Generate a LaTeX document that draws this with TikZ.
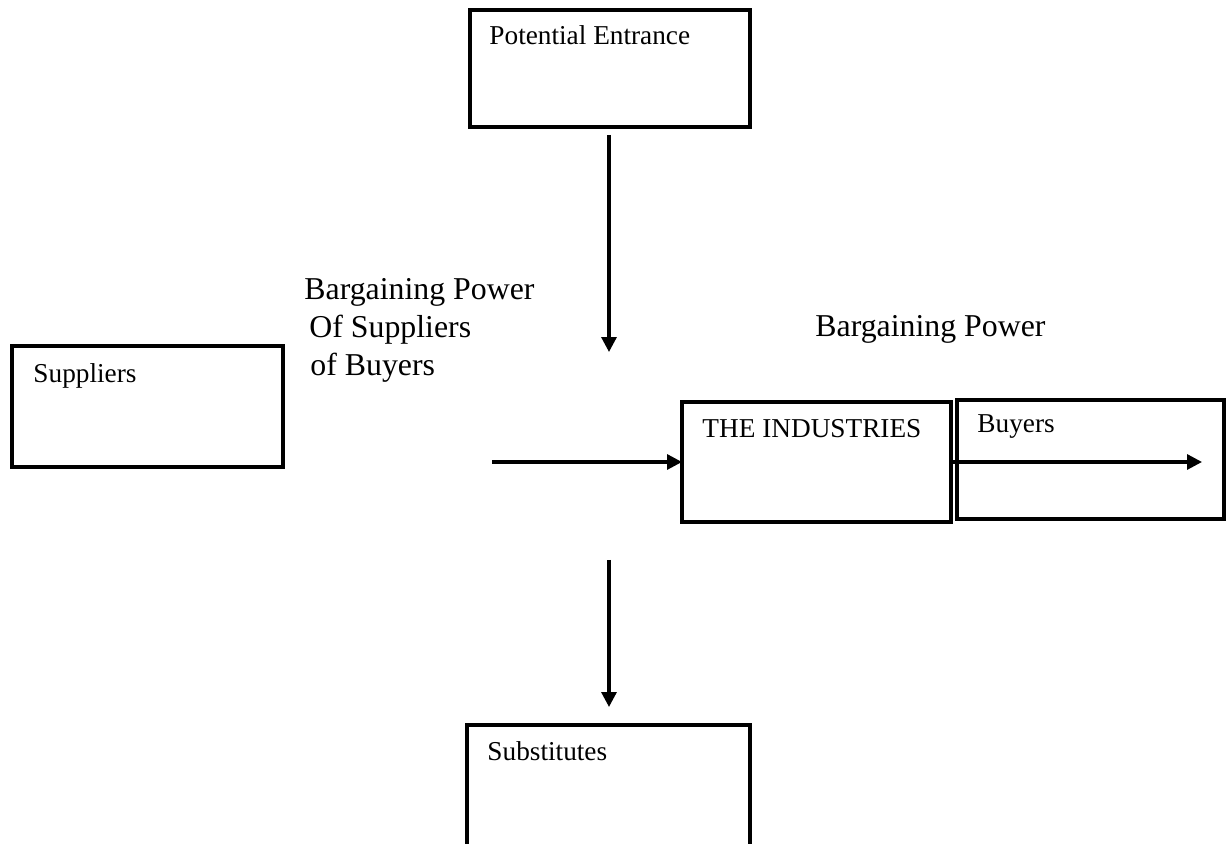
\documentclass[tikz,border=0pt]{standalone}
\usepackage{fontspec}
\setmainfont{Liberation Serif}
\usetikzlibrary{arrows.meta}
\tikzset{
    BX/.style 2 args ={draw, line width=1.5pt, anchor=north west, inner sep=0pt, outer sep=0pt,
        minimum width=#1*0.44pt, minimum height=#2*0.44pt},
    TX/.style ={anchor=base west, inner sep=0pt, font=\fontsize{12}{14}\selectfont},
    BP/.style ={anchor=base west, inner sep=0pt, font=\fontsize{14}{17}\selectfont},
    AR/.style ={line width=1.4pt, -{Triangle[length=6.5pt,width=6.5pt]}}}

\begin{document}
\begin{tikzpicture}[x=0.44pt,y=-0.44pt]
        \clip (0,0) rectangle (1232,844);
        \node[BX={280}{117}] (pe) at (470,10){};
        \node[BX={271}{121}] (sup) at (12,346){};
        \node[BX={269}{120}] (ind) at (682,402){};
        \node[BX={267}{119}] (buy) at (957,400){};
        \node[BX={283}{200}] (sub) at (467,725){};
        \node[TX] (pet) at (489,45){Potential Entrance};
        \node[TX] (supt) at (33,383){Suppliers};
        \node[TX] (indt) at (702,438){THE INDUSTRIES};
        \node[TX] (buyt) at (977,433){Buyers};
        \node[TX] (subt) at (487,761){Substitutes};
        \node[BP] (bp1) at (304,300){Bargaining Power};
        \node[BP] (bp2) at (309,338){Of Suppliers};
        \node[BP] (bp3) at (310,376){of Buyers};
        \node[BP] (bp4) at (815,337){Bargaining Power};
        \coordinate (a1) at (609,135);
        \coordinate (a2) at (609,352);
        \coordinate (h1) at (492,462);
        \coordinate (h2) at (1202,462);
        \coordinate (b1) at (609,560);
        \coordinate (b2) at (609,707);
        \draw[AR] (a1) --(a2);
        \draw[AR] (h1) --(ind.west);
        \draw[AR] (ind.east) --(h2);
        \draw[AR] (b1) --(b2);
    \end{tikzpicture}
\end{document}
